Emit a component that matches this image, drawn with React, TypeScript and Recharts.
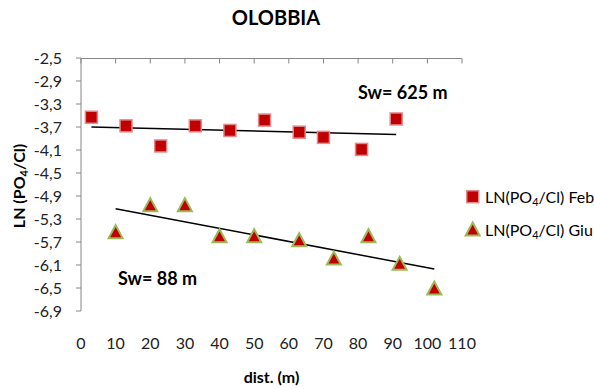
import { Scatter, ScatterChart, XAxis, YAxis } from 'recharts';

const FEB_X = [3, 13, 23, 33, 43, 53, 63, 70, 81, 91];
const FEB_Y = [-3.53, -3.68, -4.03, -3.68, -3.76, -3.58, -3.79, -3.88, -4.09, -3.56];
const GIU_X = [10, 20, 30, 40, 50, 63, 73, 83, 92, 102];
const GIU_Y = [-5.52, -5.05, -5.05, -5.59, -5.59, -5.66, -5.98, -5.59, -6.07, -6.5];

// linear trend end points
const FEB_TREND_X = [3, 91];
const FEB_TREND_Y = [-3.7, -3.83];
const GIU_TREND_X = [10, 102];
const GIU_TREND_Y = [-5.12, -6.17];

const X_TICKS = [0, 10, 20, 30, 40, 50, 60, 70, 80, 90, 100, 110];
const Y_TICKS = [-2.5, -2.9, -3.3, -3.7, -4.1, -4.5, -4.9, -5.3, -5.7, -6.1, -6.5, -6.9];

const zip = (xs: number[], ys: number[]) => xs.map((x, i) => ({ x, y: ys[i] }));

const FONT = 'Lato, "Open Sans", sans-serif';
const RED = '#c00000';
const GREEN = '#9bbb59';
const AXIS = '#868686';
const Y_MAX = -2.5;
const X_MAX = 110;

const W = 594;
const H = 389;
const MARGIN = { top: 58, right: 132, left: 0, bottom: 48 };
const Y_AXIS_W = 81;
const PLOT_L = MARGIN.left + Y_AXIS_W;
const PLOT_R = W - MARGIN.right;

const feb = zip(FEB_X, FEB_Y);
const giu = zip(GIU_X, GIU_Y);
const febTrend = zip(FEB_TREND_X, FEB_TREND_Y);
const giuTrend = zip(GIU_TREND_X, GIU_TREND_Y);

function SquareMark({ cx, cy }: { cx?: number; cy?: number }) {
  if (cx == null || cy == null) return <g />;
  return (
    <rect x={cx - 6} y={cy - 6} width={12} height={12} fill={RED} stroke="#e08a8e" strokeWidth={1.5} />
  );
}

function TriangleMark({ cx, cy }: { cx?: number; cy?: number }) {
  if (cx == null || cy == null) return <g />;
  return (
    <polygon
      points={`${cx},${cy - 6.5} ${cx + 7},${cy + 6.5} ${cx - 7},${cy + 6.5}`}
      fill={RED}
      stroke={GREEN}
      strokeWidth={2}
    />
  );
}

const Empty = () => <g />;

// Excel puts the horizontal axis line at the top (crosses at -2.5), ticks pointing in
function TopAxis() {
  const y = MARGIN.top + 0.5;
  const sx = (t: number) => PLOT_L + (t / X_MAX) * (PLOT_R - PLOT_L);
  return (
    <g>
      <line x1={PLOT_L} y1={y} x2={PLOT_R} y2={y} stroke={AXIS} strokeWidth={1} />
      {X_TICKS.map((t) => (
        <line key={t} x1={sx(t)} y1={y} x2={sx(t)} y2={y + 5} stroke={AXIS} strokeWidth={1} />
      ))}
    </g>
  );
}

export default function App() {
  return (
    <div style={{ position: 'absolute', left: 0, top: 0, width: W, height: H, background: '#fff' }}>
      <ScatterChart width={W} height={H} margin={MARGIN}>
        <XAxis
          type="number"
          dataKey="x"
          domain={[0, X_MAX]}
          ticks={X_TICKS}
          interval={0}
          height={30}
          axisLine={false}
          tickLine={false}
          tickMargin={21}
          tick={{ fontSize: 16, fill: '#222', fontFamily: FONT }}
        />
        <YAxis
          type="number"
          dataKey="y"
          domain={[-6.9, Y_MAX]}
          ticks={Y_TICKS}
          interval={0}
          width={Y_AXIS_W}
          tickSize={5}
          tickMargin={14}
          axisLine={{ stroke: AXIS }}
          tickLine={{ stroke: AXIS }}
          tick={{ fontSize: 16, fill: '#222', fontFamily: FONT }}
          tickFormatter={(v: number) => v.toFixed(1).replace('.', ',')}
        />
        <Scatter data={febTrend} line={{ stroke: '#000', strokeWidth: 1.5 }} shape={Empty} isAnimationActive={false} />
        <Scatter data={giuTrend} line={{ stroke: '#000', strokeWidth: 1.5 }} shape={Empty} isAnimationActive={false} />
        <Scatter data={feb} shape={SquareMark} isAnimationActive={false} />
        <Scatter data={giu} shape={TriangleMark} isAnimationActive={false} />
      </ScatterChart>
      <svg
        width={W}
        height={H}
        style={{ position: 'absolute', left: 0, top: 0, pointerEvents: 'none', fontFamily: FONT }}
      >
        <TopAxis />
        <text x={276} y={25} textAnchor="middle" fontSize={20} fontWeight={700} fill="#000">
          OLOBBIA
        </text>
        <text x={358} y={99} fontSize={18} fontWeight={700} fill="#000">
          Sw= 625 m
        </text>
        <text x={118} y={285} fontSize={18} fontWeight={700} fill="#000">
          Sw= 88 m
        </text>
        <text x={271.5} y={383} textAnchor="middle" fontSize={16} fontWeight={700} fill="#000">
          dist. (m)
        </text>
        <text
          transform="translate(25,186) rotate(-90)"
          textAnchor="middle"
          fontSize={16}
          fontWeight={700}
          fill="#000"
        >
          LN (PO<tspan fontSize={11} dy={3}>4</tspan>
          <tspan dy={-3}>/Cl)</tspan>
        </text>
        <rect x={466.7} y={190.7} width={12} height={12} fill={RED} stroke="#e08a8e" strokeWidth={1.5} />
        <text x={485} y={203} fontSize={16} fill="#000">
          LN(PO<tspan fontSize={11} dy={3}>4</tspan>
          <tspan dy={-3}>/Cl) Feb</tspan>
        </text>
        <polygon points="472.7,222.5 479.7,235.5 465.7,235.5" fill={RED} stroke={GREEN} strokeWidth={2} />
        <text x={485} y={236} fontSize={16} fill="#000">
          LN(PO<tspan fontSize={11} dy={3}>4</tspan>
          <tspan dy={-3}>/Cl) Giu</tspan>
        </text>
      </svg>
    </div>
  );
}
